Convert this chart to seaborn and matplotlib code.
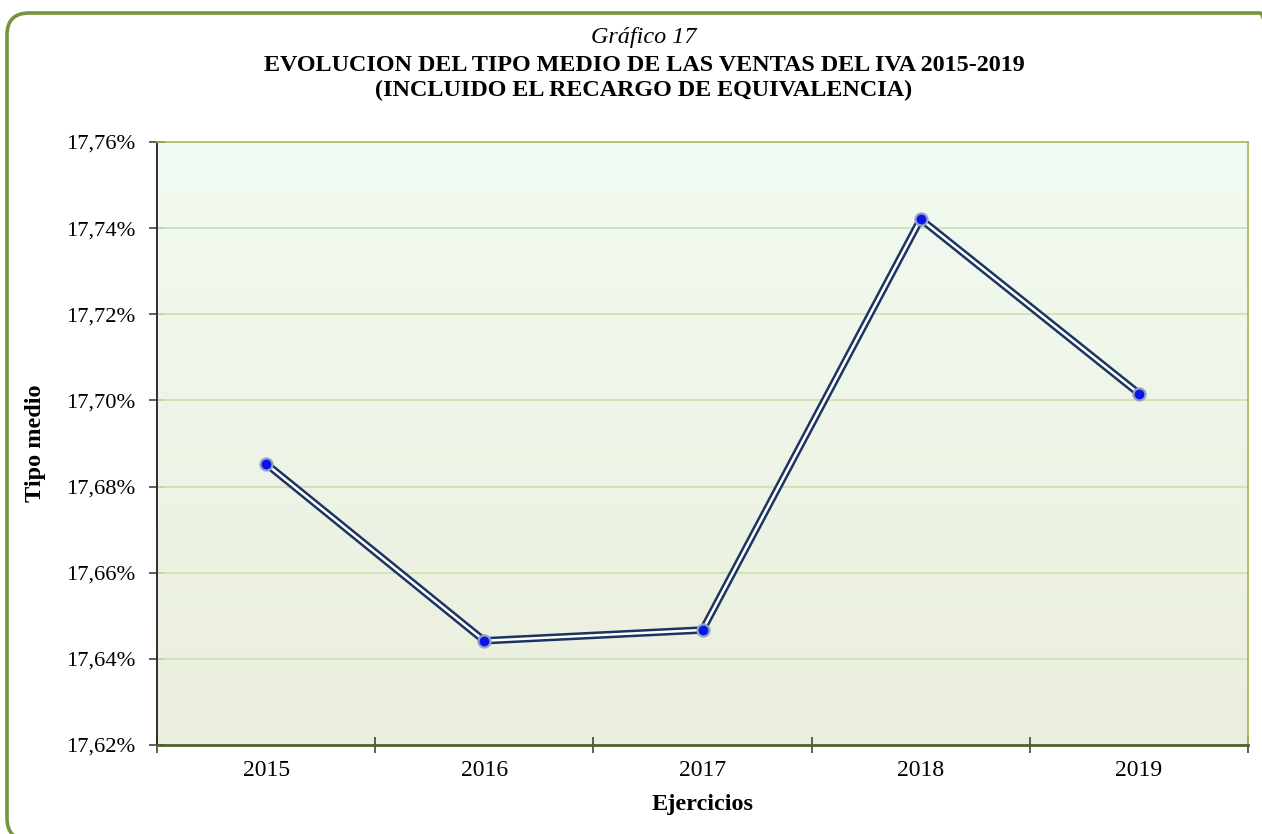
import numpy as np
import pandas as pd
import matplotlib
matplotlib.use("Agg")
import matplotlib.pyplot as plt
import seaborn as sns
from matplotlib.patches import FancyBboxPatch
from matplotlib.ticker import FuncFormatter, FixedLocator
from matplotlib.colors import LinearSegmentedColormap

# ---- data ----
years = ["2015", "2016", "2017", "2018", "2019"]
tipo_medio = [17.6853, 17.6442, 17.6467, 17.7421, 17.7016]
y_ticks = [17.62, 17.64, 17.66, 17.68, 17.70, 17.72, 17.74, 17.76]

title_top = "Gráfico 17"
title_l1 = "EVOLUCION DEL TIPO MEDIO DE LAS VENTAS DEL IVA 2015-2019"
title_l2 = "(INCLUIDO EL RECARGO DE EQUIVALENCIA)"
xlabel = "Ejercicios"
ylabel = "Tipo medio"

df = pd.DataFrame({"pos": np.arange(len(years)), "year": years, "value": tipo_medio})

sns.set_theme(style="white")
plt.rcParams["font.family"] = ["Liberation Serif", "DejaVu Serif"]

W, H = 1262, 834
fig = plt.figure(figsize=(W / 100, H / 100), dpi=100)
fig.patch.set_facecolor("white")

# rounded green frame
frame = FancyBboxPatch((0.07, -0.06), 12.75, 8.27,
                       boxstyle="round,pad=0,rounding_size=0.22",
                       transform=fig.dpi_scale_trans, fill=False,
                       edgecolor="#77933C", linewidth=2.6, zorder=0)
fig.patches.append(frame)

L, R, T, B = 157, 1248, 142, 745
ax = fig.add_axes([L / W, (H - B) / H, (R - L) / W, (B - T) / H])

xmin, xmax = -0.5, len(years) - 0.5
ymin, ymax = y_ticks[0], y_ticks[-1]

# gradient background
cmap = LinearSegmentedColormap.from_list("bg", ["#EAEEDC", "#F2FBF2"])
grad = np.linspace(0, 1, 256).reshape(-1, 1)
ax.imshow(grad, extent=[xmin, xmax, ymin, ymax], origin="lower", aspect="auto",
          cmap=cmap, zorder=0, interpolation="bicubic")

# gridlines
for yv in y_ticks[1:-1]:
    ax.axhline(yv, color="#D3E0B4", linewidth=1.3, zorder=1)

# double line
sns.lineplot(data=df, x="pos", y="value", ax=ax, color="#1C3461",
             linewidth=5.4, zorder=3, legend=False)
sns.lineplot(data=df, x="pos", y="value", ax=ax, color="white",
             linewidth=1.8, zorder=4, legend=False)
sns.scatterplot(data=df, x="pos", y="value", ax=ax, color="#0A14E6",
                s=75, edgecolor="#8FA3C8", linewidth=1.6, zorder=5, legend=False)

ax.set_xlim(xmin, xmax)
ax.set_ylim(ymin, ymax)

# ticks
ax.xaxis.set_major_locator(FixedLocator(np.arange(xmin, xmax + 0.01, 1.0)))
ax.xaxis.set_minor_locator(FixedLocator(df["pos"].tolist()))
ax.set_xticklabels([], minor=False)
ax.set_xticklabels(years, minor=True)
ax.tick_params(axis="x", which="major", direction="inout", length=12, width=1.1,
               color="#333333", bottom=True)
ax.tick_params(axis="x", which="minor", length=0, pad=11, labelsize=17,
               labelcolor="black", bottom=True)

ax.set_yticks(y_ticks)
ax.yaxis.set_major_formatter(FuncFormatter(lambda v, p: f"{v:.2f}%".replace(".", ",")))
ax.tick_params(axis="y", which="major", direction="inout", length=11, width=1.1,
               color="#333333", pad=10, labelsize=16.2, labelcolor="black", left=True)

for side in ["top", "right"]:
    ax.spines[side].set_color("#9BBB59")
    ax.spines[side].set_linewidth(1.2)
ax.spines["left"].set_color("#2E2E2E")
ax.spines["left"].set_linewidth(1.4)
ax.spines["bottom"].set_color("#4F5F2F")
ax.spines["bottom"].set_linewidth(2.0)
for s in ax.spines.values():
    s.set_zorder(6)

ax.set_xlabel(xlabel, fontsize=17.5, fontweight="bold", color="black")
ax.set_ylabel(ylabel, fontsize=17.5, fontweight="bold", color="black")
ax.xaxis.set_label_coords(0.5, (B - 794) / (B - T))
ax.yaxis.set_label_coords((35 - L) / (R - L), 0.5)
ax.xaxis.label.set_va("top")
ax.yaxis.label.set_va("center")

cx = 644 / W
fig.text(cx, 1 - 43 / H, title_top, ha="center", va="baseline", fontsize=17.4,
         fontstyle="italic", color="black")
fig.text(cx, 1 - 71 / H, title_l1, ha="center", va="baseline", fontsize=17.4,
         fontweight="bold", color="black")
fig.text(cx, 1 - 96 / H, title_l2, ha="center", va="baseline", fontsize=17.4,
         fontweight="bold", color="black")

fig.savefig("out.png", dpi=100)
